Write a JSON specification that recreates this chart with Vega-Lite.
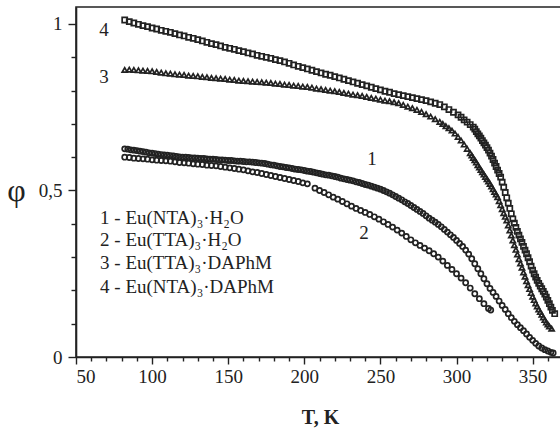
{
"$schema": "https://vega.github.io/schema/vega-lite/v6.json",
"autosize": {"type": "none"},
"padding": {"left": 76, "top": 7, "right": 0, "bottom": 72},
"width": 486,
"height": 350,
"background": "white",
"config": {"view": {"stroke": "#222", "strokeWidth": 1.6}, "axis": {"grid": false, "domainColor": "#222", "tickColor": "#222", "labelColor": "#222", "titleColor": "#222", "labelFont": "Liberation Serif", "titleFont": "Liberation Serif", "domainWidth": 1.6, "tickWidth": 1.4}},
"datasets": {
"pts": [
{"s":"4","T":82,"p":1.012},{"s":"4","T":85,"p":1.007},{"s":"4","T":88,"p":1.003},{"s":"4","T":91,"p":0.999},{"s":"4","T":94,"p":0.995},{"s":"4","T":97,"p":0.992},{"s":"4","T":100,"p":0.988},{"s":"4","T":103,"p":0.985},{"s":"4","T":106,"p":0.981},{"s":"4","T":109,"p":0.978},{"s":"4","T":112,"p":0.975},{"s":"4","T":115,"p":0.971},{"s":"4","T":118,"p":0.967},{"s":"4","T":121,"p":0.964},{"s":"4","T":124,"p":0.960},{"s":"4","T":127,"p":0.957},{"s":"4","T":130,"p":0.953},{"s":"4","T":133,"p":0.949},{"s":"4","T":136,"p":0.945},{"s":"4","T":139,"p":0.941},{"s":"4","T":142,"p":0.938},{"s":"4","T":145,"p":0.934},{"s":"4","T":148,"p":0.930},{"s":"4","T":151,"p":0.927},{"s":"4","T":154,"p":0.924},{"s":"4","T":157,"p":0.920},{"s":"4","T":160,"p":0.917},{"s":"4","T":163,"p":0.913},{"s":"4","T":166,"p":0.910},{"s":"4","T":169,"p":0.906},{"s":"4","T":172,"p":0.903},{"s":"4","T":175,"p":0.900},{"s":"4","T":178,"p":0.897},{"s":"4","T":181,"p":0.893},{"s":"4","T":184,"p":0.890},{"s":"4","T":187,"p":0.886},{"s":"4","T":190,"p":0.882},{"s":"4","T":193,"p":0.877},{"s":"4","T":196,"p":0.873},{"s":"4","T":199,"p":0.869},{"s":"4","T":202,"p":0.865},{"s":"4","T":205,"p":0.861},{"s":"4","T":208,"p":0.857},{"s":"4","T":211,"p":0.853},{"s":"4","T":214,"p":0.849},{"s":"4","T":217,"p":0.846},{"s":"4","T":220,"p":0.842},{"s":"4","T":223,"p":0.838},{"s":"4","T":226,"p":0.834},{"s":"4","T":229,"p":0.830},{"s":"4","T":232,"p":0.826},{"s":"4","T":235,"p":0.822},{"s":"4","T":238,"p":0.818},{"s":"4","T":241,"p":0.814},{"s":"4","T":244,"p":0.810},{"s":"4","T":247,"p":0.806},{"s":"4","T":250,"p":0.802},{"s":"4","T":253,"p":0.798},{"s":"4","T":256,"p":0.795},{"s":"4","T":259,"p":0.791},{"s":"4","T":262,"p":0.788},{"s":"4","T":265,"p":0.785},{"s":"4","T":268,"p":0.782},{"s":"4","T":271,"p":0.779},{"s":"4","T":274,"p":0.776},{"s":"4","T":277,"p":0.773},{"s":"4","T":280,"p":0.770},{"s":"4","T":283,"p":0.766},{"s":"4","T":286,"p":0.762},{"s":"4","T":289,"p":0.758},{"s":"4","T":292,"p":0.751},{"s":"4","T":295,"p":0.743},{"s":"4","T":298,"p":0.735},{"s":"4","T":301,"p":0.727},{"s":"4","T":303,"p":0.720},{"s":"4","T":305,"p":0.712},{"s":"4","T":307,"p":0.705},{"s":"4","T":309,"p":0.698},{"s":"4","T":311,"p":0.690},{"s":"4","T":312,"p":0.684},{"s":"4","T":313,"p":0.677},{"s":"4","T":314,"p":0.670},{"s":"4","T":315,"p":0.664},{"s":"4","T":316,"p":0.657},{"s":"4","T":317,"p":0.650},{"s":"4","T":318,"p":0.643},{"s":"4","T":319,"p":0.636},{"s":"4","T":320,"p":0.629},{"s":"4","T":321,"p":0.621},{"s":"4","T":322,"p":0.612},{"s":"4","T":323,"p":0.603},{"s":"4","T":324,"p":0.593},{"s":"4","T":325,"p":0.582},{"s":"4","T":326,"p":0.572},{"s":"4","T":327,"p":0.561},{"s":"4","T":328,"p":0.551},{"s":"4","T":329,"p":0.540},{"s":"4","T":330,"p":0.525},{"s":"4","T":331,"p":0.510},{"s":"4","T":332,"p":0.494},{"s":"4","T":333,"p":0.478},{"s":"4","T":334,"p":0.462},{"s":"4","T":335,"p":0.446},{"s":"4","T":336,"p":0.430},{"s":"4","T":337,"p":0.415},{"s":"4","T":338,"p":0.402},{"s":"4","T":339,"p":0.389},{"s":"4","T":340,"p":0.377},{"s":"4","T":341,"p":0.366},{"s":"4","T":342,"p":0.355},{"s":"4","T":343,"p":0.344},{"s":"4","T":344,"p":0.332},{"s":"4","T":345,"p":0.321},{"s":"4","T":346,"p":0.310},{"s":"4","T":347,"p":0.298},{"s":"4","T":348,"p":0.286},{"s":"4","T":349,"p":0.273},{"s":"4","T":350,"p":0.261},{"s":"4","T":351,"p":0.250},{"s":"4","T":352,"p":0.240},{"s":"4","T":353,"p":0.230},{"s":"4","T":354,"p":0.221},{"s":"4","T":355,"p":0.213},{"s":"4","T":356,"p":0.205},{"s":"4","T":357,"p":0.197},{"s":"4","T":358,"p":0.189},{"s":"4","T":359,"p":0.180},{"s":"4","T":360,"p":0.170},{"s":"4","T":361,"p":0.160},{"s":"4","T":362,"p":0.150},{"s":"4","T":363,"p":0.140},{"s":"4","T":364.5,"p":0.130},
{"s":"3","T":82,"p":0.862},{"s":"3","T":85,"p":0.863},{"s":"3","T":88,"p":0.862},{"s":"3","T":91,"p":0.861},{"s":"3","T":94,"p":0.860},{"s":"3","T":97,"p":0.859},{"s":"3","T":100,"p":0.858},{"s":"3","T":103,"p":0.856},{"s":"3","T":106,"p":0.854},{"s":"3","T":109,"p":0.852},{"s":"3","T":112,"p":0.851},{"s":"3","T":115,"p":0.849},{"s":"3","T":118,"p":0.848},{"s":"3","T":121,"p":0.847},{"s":"3","T":124,"p":0.845},{"s":"3","T":127,"p":0.844},{"s":"3","T":130,"p":0.843},{"s":"3","T":133,"p":0.841},{"s":"3","T":136,"p":0.840},{"s":"3","T":139,"p":0.838},{"s":"3","T":142,"p":0.837},{"s":"3","T":145,"p":0.836},{"s":"3","T":148,"p":0.835},{"s":"3","T":151,"p":0.833},{"s":"3","T":154,"p":0.832},{"s":"3","T":157,"p":0.830},{"s":"3","T":160,"p":0.829},{"s":"3","T":163,"p":0.828},{"s":"3","T":166,"p":0.827},{"s":"3","T":169,"p":0.826},{"s":"3","T":172,"p":0.825},{"s":"3","T":175,"p":0.824},{"s":"3","T":178,"p":0.823},{"s":"3","T":181,"p":0.821},{"s":"3","T":184,"p":0.820},{"s":"3","T":187,"p":0.818},{"s":"3","T":190,"p":0.817},{"s":"3","T":193,"p":0.815},{"s":"3","T":196,"p":0.814},{"s":"3","T":199,"p":0.812},{"s":"3","T":202,"p":0.811},{"s":"3","T":205,"p":0.809},{"s":"3","T":208,"p":0.806},{"s":"3","T":211,"p":0.804},{"s":"3","T":214,"p":0.802},{"s":"3","T":217,"p":0.800},{"s":"3","T":220,"p":0.798},{"s":"3","T":223,"p":0.796},{"s":"3","T":226,"p":0.793},{"s":"3","T":229,"p":0.791},{"s":"3","T":232,"p":0.788},{"s":"3","T":235,"p":0.786},{"s":"3","T":238,"p":0.784},{"s":"3","T":241,"p":0.781},{"s":"3","T":244,"p":0.778},{"s":"3","T":247,"p":0.776},{"s":"3","T":250,"p":0.773},{"s":"3","T":253,"p":0.770},{"s":"3","T":256,"p":0.768},{"s":"3","T":259,"p":0.765},{"s":"3","T":262,"p":0.762},{"s":"3","T":265,"p":0.757},{"s":"3","T":268,"p":0.752},{"s":"3","T":271,"p":0.747},{"s":"3","T":274,"p":0.742},{"s":"3","T":277,"p":0.736},{"s":"3","T":280,"p":0.729},{"s":"3","T":283,"p":0.722},{"s":"3","T":286,"p":0.714},{"s":"3","T":289,"p":0.706},{"s":"3","T":291,"p":0.700},{"s":"3","T":293,"p":0.693},{"s":"3","T":295,"p":0.687},{"s":"3","T":297,"p":0.680},{"s":"3","T":299,"p":0.671},{"s":"3","T":301,"p":0.661},{"s":"3","T":303,"p":0.650},{"s":"3","T":305,"p":0.638},{"s":"3","T":307,"p":0.625},{"s":"3","T":309,"p":0.612},{"s":"3","T":310,"p":0.605},{"s":"3","T":311,"p":0.598},{"s":"3","T":312,"p":0.591},{"s":"3","T":313,"p":0.584},{"s":"3","T":314,"p":0.576},{"s":"3","T":315,"p":0.569},{"s":"3","T":316,"p":0.562},{"s":"3","T":317,"p":0.555},{"s":"3","T":318,"p":0.548},{"s":"3","T":319,"p":0.541},{"s":"3","T":320,"p":0.534},{"s":"3","T":321,"p":0.527},{"s":"3","T":322,"p":0.520},{"s":"3","T":323,"p":0.512},{"s":"3","T":324,"p":0.504},{"s":"3","T":325,"p":0.496},{"s":"3","T":326,"p":0.488},{"s":"3","T":327,"p":0.480},{"s":"3","T":328,"p":0.468},{"s":"3","T":329,"p":0.456},{"s":"3","T":330,"p":0.444},{"s":"3","T":331,"p":0.432},{"s":"3","T":332,"p":0.421},{"s":"3","T":333,"p":0.410},{"s":"3","T":334,"p":0.395},{"s":"3","T":335,"p":0.380},{"s":"3","T":336,"p":0.365},{"s":"3","T":337,"p":0.350},{"s":"3","T":338,"p":0.336},{"s":"3","T":339,"p":0.322},{"s":"3","T":340,"p":0.308},{"s":"3","T":341,"p":0.294},{"s":"3","T":342,"p":0.281},{"s":"3","T":343,"p":0.268},{"s":"3","T":344,"p":0.254},{"s":"3","T":345,"p":0.241},{"s":"3","T":346,"p":0.228},{"s":"3","T":347,"p":0.216},{"s":"3","T":348,"p":0.204},{"s":"3","T":349,"p":0.192},{"s":"3","T":350,"p":0.181},{"s":"3","T":351,"p":0.171},{"s":"3","T":352,"p":0.161},{"s":"3","T":353,"p":0.152},{"s":"3","T":354,"p":0.143},{"s":"3","T":355,"p":0.135},{"s":"3","T":356,"p":0.127},{"s":"3","T":357,"p":0.119},{"s":"3","T":358,"p":0.111},{"s":"3","T":359,"p":0.104},{"s":"3","T":360,"p":0.098},{"s":"3","T":361,"p":0.092},{"s":"3","T":362.5,"p":0.085},
{"s":"1","T":82,"p":0.625},{"s":"1","T":84,"p":0.624},{"s":"1","T":86,"p":0.622},{"s":"1","T":88,"p":0.621},{"s":"1","T":90,"p":0.620},{"s":"1","T":92,"p":0.618},{"s":"1","T":94,"p":0.617},{"s":"1","T":96,"p":0.615},{"s":"1","T":98,"p":0.613},{"s":"1","T":100,"p":0.612},{"s":"1","T":102,"p":0.611},{"s":"1","T":104,"p":0.609},{"s":"1","T":106,"p":0.608},{"s":"1","T":108,"p":0.607},{"s":"1","T":110,"p":0.606},{"s":"1","T":112,"p":0.605},{"s":"1","T":114,"p":0.604},{"s":"1","T":116,"p":0.602},{"s":"1","T":118,"p":0.601},{"s":"1","T":120,"p":0.600},{"s":"1","T":122,"p":0.600},{"s":"1","T":124,"p":0.599},{"s":"1","T":126,"p":0.598},{"s":"1","T":128,"p":0.598},{"s":"1","T":130,"p":0.597},{"s":"1","T":132,"p":0.596},{"s":"1","T":134,"p":0.596},{"s":"1","T":136,"p":0.595},{"s":"1","T":138,"p":0.594},{"s":"1","T":140,"p":0.594},{"s":"1","T":142,"p":0.593},{"s":"1","T":144,"p":0.592},{"s":"1","T":146,"p":0.592},{"s":"1","T":148,"p":0.591},{"s":"1","T":150,"p":0.590},{"s":"1","T":152,"p":0.590},{"s":"1","T":154,"p":0.589},{"s":"1","T":156,"p":0.588},{"s":"1","T":158,"p":0.588},{"s":"1","T":160,"p":0.587},{"s":"1","T":162,"p":0.586},{"s":"1","T":164,"p":0.586},{"s":"1","T":166,"p":0.585},{"s":"1","T":168,"p":0.584},{"s":"1","T":170,"p":0.583},{"s":"1","T":172,"p":0.582},{"s":"1","T":174,"p":0.581},{"s":"1","T":176,"p":0.579},{"s":"1","T":178,"p":0.577},{"s":"1","T":180,"p":0.576},{"s":"1","T":182,"p":0.574},{"s":"1","T":184,"p":0.572},{"s":"1","T":186,"p":0.571},{"s":"1","T":188,"p":0.569},{"s":"1","T":190,"p":0.568},{"s":"1","T":192,"p":0.566},{"s":"1","T":194,"p":0.564},{"s":"1","T":196,"p":0.563},{"s":"1","T":198,"p":0.562},{"s":"1","T":200,"p":0.560},{"s":"1","T":202,"p":0.558},{"s":"1","T":204,"p":0.557},{"s":"1","T":206,"p":0.555},{"s":"1","T":208,"p":0.553},{"s":"1","T":210,"p":0.551},{"s":"1","T":212,"p":0.549},{"s":"1","T":214,"p":0.547},{"s":"1","T":216,"p":0.546},{"s":"1","T":218,"p":0.544},{"s":"1","T":220,"p":0.542},{"s":"1","T":222,"p":0.540},{"s":"1","T":224,"p":0.537},{"s":"1","T":226,"p":0.535},{"s":"1","T":228,"p":0.533},{"s":"1","T":230,"p":0.531},{"s":"1","T":232,"p":0.529},{"s":"1","T":234,"p":0.526},{"s":"1","T":236,"p":0.524},{"s":"1","T":238,"p":0.521},{"s":"1","T":240,"p":0.518},{"s":"1","T":242,"p":0.516},{"s":"1","T":244,"p":0.513},{"s":"1","T":246,"p":0.510},{"s":"1","T":248,"p":0.507},{"s":"1","T":250,"p":0.504},{"s":"1","T":252,"p":0.500},{"s":"1","T":254,"p":0.496},{"s":"1","T":256,"p":0.492},{"s":"1","T":258,"p":0.487},{"s":"1","T":260,"p":0.482},{"s":"1","T":262,"p":0.477},{"s":"1","T":264,"p":0.472},{"s":"1","T":266,"p":0.466},{"s":"1","T":268,"p":0.461},{"s":"1","T":270,"p":0.455},{"s":"1","T":272,"p":0.449},{"s":"1","T":274,"p":0.443},{"s":"1","T":276,"p":0.437},{"s":"1","T":278,"p":0.431},{"s":"1","T":280,"p":0.424},{"s":"1","T":282,"p":0.417},{"s":"1","T":284,"p":0.411},{"s":"1","T":286,"p":0.405},{"s":"1","T":288,"p":0.398},{"s":"1","T":290,"p":0.391},{"s":"1","T":292,"p":0.383},{"s":"1","T":294,"p":0.375},{"s":"1","T":296,"p":0.367},{"s":"1","T":298,"p":0.359},{"s":"1","T":300,"p":0.350},{"s":"1","T":302,"p":0.341},{"s":"1","T":304,"p":0.332},{"s":"1","T":306,"p":0.321},{"s":"1","T":308,"p":0.309},{"s":"1","T":310,"p":0.295},{"s":"1","T":312,"p":0.280},{"s":"1","T":314,"p":0.265},{"s":"1","T":316,"p":0.250},{"s":"1","T":318,"p":0.235},{"s":"1","T":320,"p":0.220},{"s":"1","T":322,"p":0.206},{"s":"1","T":324,"p":0.194},{"s":"1","T":326,"p":0.182},{"s":"1","T":328,"p":0.168},{"s":"1","T":330,"p":0.155},{"s":"1","T":332,"p":0.143},{"s":"1","T":334,"p":0.130},{"s":"1","T":336,"p":0.118},{"s":"1","T":338,"p":0.107},{"s":"1","T":340,"p":0.097},{"s":"1","T":342,"p":0.088},{"s":"1","T":344,"p":0.079},{"s":"1","T":346,"p":0.069},{"s":"1","T":348,"p":0.059},{"s":"1","T":350,"p":0.050},{"s":"1","T":352,"p":0.041},{"s":"1","T":354,"p":0.033},{"s":"1","T":356,"p":0.027},{"s":"1","T":358,"p":0.022},{"s":"1","T":360,"p":0.018},{"s":"1","T":362,"p":0.014},{"s":"1","T":363.5,"p":0.012},
{"s":"2","T":82,"p":0.600},{"s":"2","T":85,"p":0.599},{"s":"2","T":88,"p":0.597},{"s":"2","T":91,"p":0.596},{"s":"2","T":94,"p":0.595},{"s":"2","T":97,"p":0.594},{"s":"2","T":100,"p":0.592},{"s":"2","T":103,"p":0.591},{"s":"2","T":106,"p":0.590},{"s":"2","T":109,"p":0.589},{"s":"2","T":112,"p":0.588},{"s":"2","T":115,"p":0.586},{"s":"2","T":118,"p":0.584},{"s":"2","T":121,"p":0.583},{"s":"2","T":124,"p":0.582},{"s":"2","T":127,"p":0.580},{"s":"2","T":130,"p":0.579},{"s":"2","T":133,"p":0.578},{"s":"2","T":136,"p":0.576},{"s":"2","T":139,"p":0.575},{"s":"2","T":142,"p":0.574},{"s":"2","T":145,"p":0.572},{"s":"2","T":148,"p":0.570},{"s":"2","T":151,"p":0.568},{"s":"2","T":154,"p":0.566},{"s":"2","T":157,"p":0.564},{"s":"2","T":160,"p":0.562},{"s":"2","T":163,"p":0.559},{"s":"2","T":166,"p":0.556},{"s":"2","T":169,"p":0.554},{"s":"2","T":172,"p":0.551},{"s":"2","T":175,"p":0.548},{"s":"2","T":178,"p":0.545},{"s":"2","T":181,"p":0.542},{"s":"2","T":184,"p":0.539},{"s":"2","T":187,"p":0.536},{"s":"2","T":190,"p":0.533},{"s":"2","T":193,"p":0.530},{"s":"2","T":196,"p":0.527},{"s":"2","T":199,"p":0.523},{"s":"2","T":202,"p":0.520},{"s":"2","T":207,"p":0.507},{"s":"2","T":210,"p":0.500},{"s":"2","T":213,"p":0.494},{"s":"2","T":216,"p":0.487},{"s":"2","T":219,"p":0.480},{"s":"2","T":222,"p":0.474},{"s":"2","T":225,"p":0.467},{"s":"2","T":228,"p":0.460},{"s":"2","T":231,"p":0.453},{"s":"2","T":234,"p":0.446},{"s":"2","T":237,"p":0.440},{"s":"2","T":240,"p":0.434},{"s":"2","T":243,"p":0.428},{"s":"2","T":246,"p":0.421},{"s":"2","T":249,"p":0.414},{"s":"2","T":252,"p":0.406},{"s":"2","T":255,"p":0.398},{"s":"2","T":258,"p":0.390},{"s":"2","T":261,"p":0.381},{"s":"2","T":264,"p":0.372},{"s":"2","T":267,"p":0.362},{"s":"2","T":270,"p":0.352},{"s":"2","T":273,"p":0.343},{"s":"2","T":276,"p":0.335},{"s":"2","T":279,"p":0.327},{"s":"2","T":282,"p":0.319},{"s":"2","T":285,"p":0.310},{"s":"2","T":288,"p":0.300},{"s":"2","T":291,"p":0.288},{"s":"2","T":294,"p":0.275},{"s":"2","T":297,"p":0.263},{"s":"2","T":300,"p":0.250},{"s":"2","T":303,"p":0.237},{"s":"2","T":306,"p":0.223},{"s":"2","T":309,"p":0.207},{"s":"2","T":312,"p":0.190},{"s":"2","T":315,"p":0.175},{"s":"2","T":318,"p":0.160},{"s":"2","T":321,"p":0.146},{"s":"2","T":322.5,"p":0.141}
],
"nums": [
{"t":"4","T":68.4,"p":0.982},
{"t":"3","T":68.4,"p":0.841},
{"t":"1","T":244.5,"p":0.595},
{"t":"2","T":239.2,"p":0.372}
],
"legend": [
{"t":"1 - Eu(NTA)₃·H₂O","T":65.8,"p":0.417},
{"t":"2 - Eu(TTA)₃·H₂O","T":65.8,"p":0.350},
{"t":"3 - Eu(TTA)₃·DAPhM","T":65.8,"p":0.281},
{"t":"4 - Eu(NTA)₃·DAPhM","T":65.8,"p":0.210}
]
},
"layer": [
{
"data": {"name": "pts"},
"mark": {"type": "point", "filled": false, "strokeWidth": 1.7, "opacity": 1},
"encoding": {
"x": {"field": "T", "type": "quantitative", "scale": {"domain": [50, 369.3], "nice": false, "zero": false},
"axis": {"orient": "bottom", "values": [50,100,150,200,250,300,350], "tickSize": 7, "labelFontSize": 19, "labelPadding": 3, "title": "T, K", "titleFontSize": 20, "titleFontWeight": "bold", "titleX": 244, "titleY": 60, "titleBaseline": "middle", "titleAlign": "center"}},
"y": {"field": "p", "type": "quantitative", "scale": {"domain": [0, 1.051], "nice": false},
"axis": {"orient": "left", "values": [0, 0.5, 1], "format": ".1~f", "labelExpr": "replace(datum.label, '.', ',')", "tickSize": 8, "labelFontSize": 19, "labelPadding": 6, "title": "φ", "titleFontSize": 32, "titleAngle": 0, "titleX": -60, "titleY": 183, "titleAlign": "center", "titleBaseline": "middle", "titleFontWeight": "normal"}},
"shape": {"field": "s", "type": "nominal", "scale": {"domain": ["1","2","3","4"], "range": ["circle","circle","triangle-up","square"]}, "legend": null},
"size": {"field": "s", "type": "nominal", "scale": {"domain": ["1","2","3","4"], "range": [26, 26, 38, 36]}, "legend": null},
"color": {"value": "#222"}
}
},
{
"data": {"name": "nums"},
"mark": {"type": "text", "font": "Liberation Serif", "fontSize": 19, "baseline": "middle", "align": "center", "color": "#222"},
"encoding": {
"x": {"field": "T", "type": "quantitative", "axis": {"orient": "bottom", "values": [60,70,80,90,110,120,130,140,160,170,180,190,210,220,230,240,260,270,280,290,310,320,330,340,360], "labels": false, "domain": false, "tickSize": 4, "title": null}},
"y": {"field": "p", "type": "quantitative", "axis": {"orient": "left", "values": [0.1,0.2,0.3,0.4,0.6,0.7,0.8,0.9], "labels": false, "domain": false, "tickSize": 5, "title": null}},
"text": {"field": "t"}
}
},
{
"data": {"name": "legend"},
"mark": {"type": "text", "font": "Liberation Serif", "fontSize": 19, "baseline": "middle", "align": "left", "color": "#222"},
"encoding": {
"x": {"field": "T", "type": "quantitative", "axis": null},
"y": {"field": "p", "type": "quantitative", "axis": null},
"text": {"field": "t"}
}
}
],
"resolve": {"axis": {"x": "independent", "y": "independent"}}
}
